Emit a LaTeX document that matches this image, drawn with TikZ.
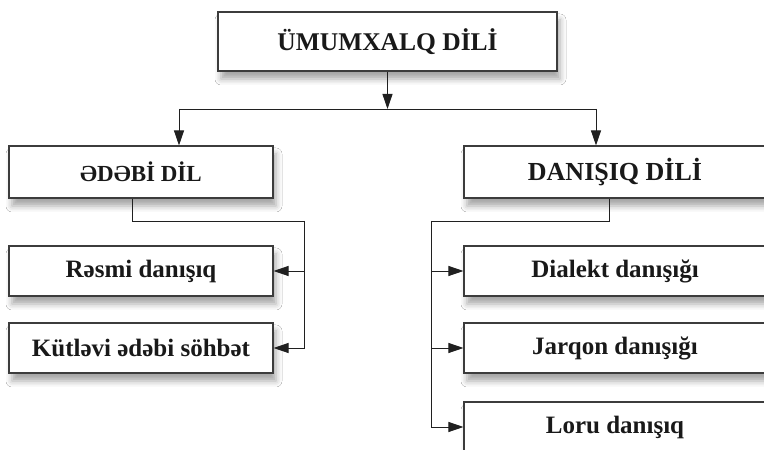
\documentclass[tikz,border=0pt]{standalone}
\usepackage{fontspec}
\setmainfont{Liberation Serif}
\usetikzlibrary{arrows.meta,shadows.blur}

\definecolor{boxline}{HTML}{3C3C3C}
\definecolor{linkline}{HTML}{202020}

\tikzset{
  box/.style={draw=boxline, line width=1.1pt, fill=white, inner sep=0pt,
    text=black!90,
    blur shadow={shadow xshift=3pt, shadow yshift=-8pt,
      shadow blur radius=6pt, shadow opacity=35}},
  leftbox/.style={box, minimum width=264pt, minimum height=50pt},
  rightbox/.style={box, minimum width=302pt, minimum height=50pt},
  itemfont/.style={font=\fontsize{25}{29}\selectfont\bfseries},
  link/.style={draw=linkline, line width=0.9pt},
  arr/.style={link, -{Triangle[length=15pt,width=10pt]}},
}

\begin{document}
\begin{tikzpicture}[x=1pt, y=1pt]
  \clip (0,0) rectangle (764,450);
  \fill[white] (0,0) rectangle (764,450);

  % main concept
  \node[box, minimum width=339pt, minimum height=59pt,
        font=\fontsize{25.5}{30}\selectfont\bfseries] (top) at (387.5,408.5) {ÜMUMXALQ DİLİ};

  % first level
  \node[leftbox, minimum height=52pt,
        font=\fontsize{23}{27}\selectfont\bfseries] (lit) at (141,278) {ƏDƏBİ DİL};
  \node[rightbox, minimum height=52pt,
        font=\fontsize{26}{30}\selectfont\bfseries] (spk) at (615,278) {DANIŞIQ DİLİ};

  % literary language branches
  \node[leftbox, itemfont] (res) at (141,179) {Rəsmi danışıq};
  \node[leftbox, itemfont] (kut) at (141,102) {Kütləvi ədəbi söhbət};

  % spoken language branches
  \node[rightbox, itemfont] (dia) at (615,179) {Dialekt danışığı};
  \node[rightbox, itemfont] (jar) at (615,102) {Jarqon danışığı};
  \node[rightbox, itemfont] (lor) at (615,23) {Loru danışıq};

  % distribution bus under the main concept
  \coordinate (busL) at (179,341);
  \coordinate (busR) at (596,341);
  \draw[arr] (top.south) -- (top.south |- busL);
  \draw[link] (busL) -- (busR);
  \draw[arr] (busL) -- (busL |- lit.north);
  \draw[arr] (busR) -- (busR |- spk.north);

  % literary language tree
  \coordinate (lj) at (132,229);
  \coordinate (lr) at (304,229);
  \draw[link] (lj |- lit.south) -- (lj) -- (lr);
  \draw[arr] (lr) -- (lr |- kut.east) -- (kut.east);
  \draw[arr] (lr |- res.east) -- (res.east);

  % spoken language tree
  \coordinate (rj) at (609,229);
  \coordinate (rl) at (431,229);
  \draw[link] (rj |- spk.south) -- (rj) -- (rl);
  \draw[arr] (rl) -- (rl |- lor.west) -- (lor.west);
  \draw[arr] (rl |- dia.west) -- (dia.west);
  \draw[arr] (rl |- jar.west) -- (jar.west);
\end{tikzpicture}
\end{document}
